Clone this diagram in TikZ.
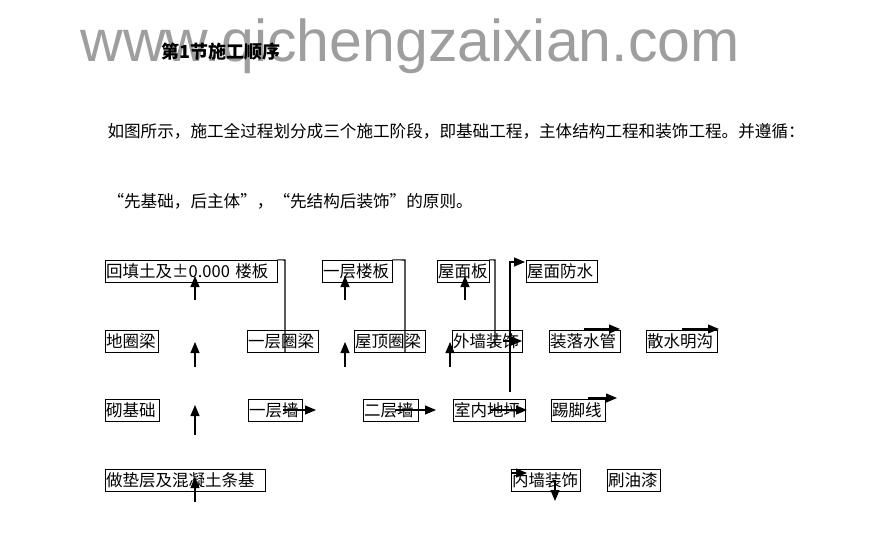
\documentclass[tikz,border=0pt]{standalone}
\usepackage{fontspec}
\setmainfont{Liberation Serif}
\newfontfamily\cjk{Noto Sans CJK SC}
\newfontfamily\wm{Liberation Sans}
\usetikzlibrary{arrows.meta}
\begin{document}
\begin{tikzpicture}[x=1pt,y=-1pt,
  bx/.style={draw,thin,anchor=west,minimum height=22pt,inner xsep=1pt,inner ysep=0pt,align=left,font=\cjk\fontsize{16.5}{16.5}\selectfont},
  ar/.style={-{Triangle[length=11pt,width=9pt]},line width=1.1pt},
  ln/.style={line width=1.1pt}]
\useasboundingbox (0,0) rectangle (875,533);
\node[anchor=center,text=black!38,font=\wm\fontsize{59}{59}\selectfont] (wm) at (410,46) {www.qichengzaixian.com};
\node[anchor=west,font=\cjk\bfseries\fontsize{18}{18}\selectfont] (title) at (158,52) {第1节施工顺序};
\node[anchor=west,font=\cjk\fontsize{16.6}{16.6}\selectfont] (p1) at (104,131) {如图所示，施工全过程划分成三个施工阶段，即基础工程，主体结构工程和装饰工程。并遵循：};
\node[anchor=west,font=\cjk\fontsize{16.6}{16.6}\selectfont] (p2) at (104,201) {“先基础，后主体”，“先结构后装饰”的原则。};
% row1
\node[bx,text width=170pt] (a1) at (105,271) {回填土及±0.000 楼板};
\node[bx,text width=68pt] (a2) at (322,271) {一层楼板};
\node[bx,text width=50pt] (a3) at (437,271) {屋面板};
\node[bx,text width=69pt] (a4) at (526,271) {屋面防水};
% row2
\node[bx,text width=51pt] (b1) at (105,341) {地圈梁};
\node[bx,text width=69pt] (b2) at (247,341) {一层圈梁};
\node[bx,text width=69pt] (b3) at (354,341) {屋顶圈梁};
\node[bx,text width=68pt] (b4) at (452,341) {外墙装饰};
\node[bx,text width=69pt] (b5) at (549,341) {装落水管};
\node[bx,text width=69pt] (b6) at (646,341) {散水明沟};
% row3
\node[bx,text width=52pt] (c1) at (105,410) {砌基础};
\node[bx,text width=52pt] (c2) at (248,410) {一层墙};
\node[bx,text width=53pt] (c3) at (363,410) {二层墙};
\node[bx,text width=70pt] (c4) at (453,410) {室内地坪};
\node[bx,text width=52pt] (c5) at (551,410) {踢脚线};
% row4
\node[bx,text width=158pt] (d1) at (105,480) {做垫层及混凝土条基};
\node[bx,text width=67pt] (d2) at (511,480) {内墙装饰};
\node[bx,text width=51pt] (d3) at (607,480) {刷油漆};
% vertical arrows
\foreach \x/\t/\h in {195/300/276,195/367/342,195/435/405,195/502/477,345/300/276,345/367/342,465/300/276,450/367/342}
  \draw[ar] (\x,\t) -- (\x,\h);
% elbow lines
\draw[ln] (a1.north east) -- (285,260) -- (285,352);
\draw[ln] (a2.north east) -- (405,260) -- (405,352);
\draw[ln] (a3.north east) -- (495,260) -- (495,346);
\draw[ar] (510,392) -- (510,262) -- (525,262);
% horizontal arrows
\draw[ar] (503,341) -- (522,341);
\draw[ar] (584,329) -- (620,329);
\draw[ar] (682,329) -- (719,329);
\draw[ar] (283,410) -- (316,410);
\draw[ar] (395,410) -- (436,410);
\draw[ar] (491,410) -- (527,410);
\draw[ar] (588,398) -- (617,398);
\draw[ar] (511,473) -- (527,473);
\draw[ar] (555,480) -- (555,501);
\end{tikzpicture}
\end{document}
